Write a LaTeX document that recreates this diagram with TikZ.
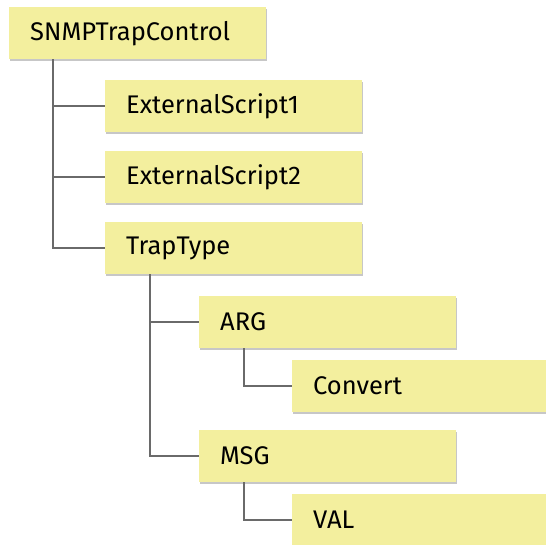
\documentclass[tikz,border=0pt]{standalone}
\usepackage{fontspec}
\setmainfont{Fira Sans}
\usetikzlibrary{shadows}
\definecolor{itemfill}{HTML}{F3EF9E}
\definecolor{itemline}{HTML}{6A6A6A}

\begin{document}
\begin{tikzpicture}[
      x=1pt, y=-1pt,
      item/.style={anchor=north west, fill=itemfill, minimum width=257pt,
        minimum height=52pt, text width=215pt, inner xsep=21pt, align=left,
        font=\fontsize{25.5}{28}\selectfont,
        drop shadow={shadow xshift=1.2pt, shadow yshift=-1.4pt, fill=black, opacity=0.22}},
      branch/.style={draw=itemline, line width=1.7pt}
    ]
      \useasboundingbox (0,0) rectangle (546,545);
      \node[item] (root) at (9,7) {SNMPTrapControl};
      \node[item] (script1) at (105,80) {ExternalScript1};
      \node[item] (script2) at (105,151) {ExternalScript2};
      \node[item] (traptype) at (105,222) {TrapType};
      \node[item] (arg) at (199,296) {ARG};
      \node[item] (convert) at (292,360) {Convert};
      \node[item] (msg) at (199,430) {MSG};
      \node[item] (val) at (292,494) {VAL};
      % tree links
      \draw[branch] ([xshift=44pt]root.south west) |- (traptype.west);
      \draw[branch] ([xshift=44pt]root.south west) |- (script1.west);
      \draw[branch] ([xshift=44pt]root.south west) |- (script2.west);
      \draw[branch] ([xshift=45pt]traptype.south west) |- (msg.west);
      \draw[branch] ([xshift=45pt]traptype.south west) |- (arg.west);
      \draw[branch] ([xshift=45pt]arg.south west) |- (convert.west);
      \draw[branch] ([xshift=45pt]msg.south west) |- (val.west);
    \end{tikzpicture}
\end{document}
